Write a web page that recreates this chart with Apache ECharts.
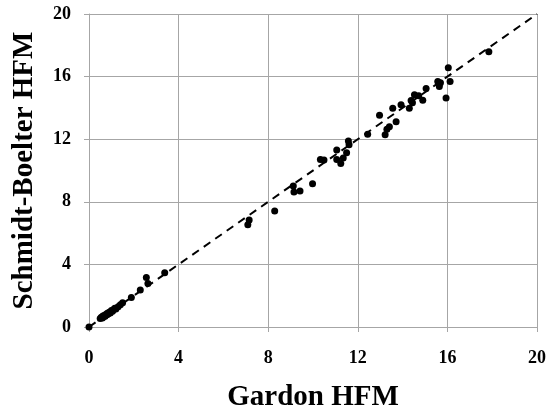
<!DOCTYPE html>
<html>
<head>
<meta charset="utf-8">
<script src="https://cdn.jsdelivr.net/npm/echarts@6/dist/echarts.min.js"></script>
<style>
  html, body { margin: 0; padding: 0; background: #fff; }
  #chart { width: 549px; height: 417px; }
</style>
</head>
<body>
<div id="chart"></div>
<script>
// Heat flux readings: Gardon gauge (x) versus Schmidt-Boelter gauge (y)
const gardon = [
  0.0, 0.50, 0.55, 0.60, 0.62, 0.65, 0.70, 0.72, 0.75, 0.80, 0.82, 0.85, 0.90, 0.95,
  1.00, 1.05, 1.10, 1.15, 1.20, 1.30, 1.40, 1.50,
  1.89, 2.29, 2.56, 2.63, 3.38,
  7.09, 7.15, 8.29, 9.12, 9.15, 9.42, 9.98, 10.33, 10.49,
  11.06, 11.06, 11.24, 11.35, 11.50, 11.61, 11.58,
  12.44, 12.97, 13.22, 13.30, 13.41, 13.56, 13.71, 13.93, 14.30, 14.38, 14.44,
  14.53, 14.72, 14.90, 15.05, 15.57, 15.64, 15.69, 15.94, 16.04, 16.12, 17.85
];
const schmidtBoelter = [
  0.0, 0.55, 0.62, 0.58, 0.70, 0.66, 0.75, 0.68, 0.80, 0.78, 0.88, 0.83, 0.95, 0.90,
  1.05, 1.00, 1.12, 1.20, 1.15, 1.30, 1.42, 1.55,
  1.89, 2.36, 3.16, 2.78, 3.46,
  6.54, 6.84, 7.41, 9.01, 8.63, 8.69, 9.16, 10.71, 10.67,
  11.31, 10.71, 10.44, 10.80, 11.14, 11.65, 11.89,
  12.31, 13.53, 12.29, 12.63, 12.80, 13.97, 13.12, 14.20, 13.97, 14.48, 14.33,
  14.84, 14.78, 14.49, 15.24, 15.68, 15.37, 15.61, 14.63, 16.56, 15.68, 17.59
];
// 1:1 reference line end points
const identityLine = [[0, 0], [20, 20]];
const axisTicks = { min: 0, max: 20, interval: 4 };

const points = gardon.map((g, i) => [g, schmidtBoelter[i]]);

const font = '"Liberation Serif", "Times New Roman", serif';
const gray = '#a6a6a6';

function axis(name, gap, labelMargin) {
  return {
    type: 'value',
    min: axisTicks.min, max: axisTicks.max, interval: axisTicks.interval,
    name: name,
    nameLocation: 'middle',
    nameGap: gap,
    nameTextStyle: { fontFamily: font, fontWeight: 'bold', fontSize: 29, color: '#000' },
    axisLine: { show: true, lineStyle: { color: gray, width: 1 } },
    axisTick: { show: true, inside: false, length: 5, lineStyle: { color: gray, width: 1 } },
    axisLabel: { fontFamily: font, fontWeight: 'bold', fontSize: 18, color: '#000', margin: labelMargin },
    splitLine: { show: true, lineStyle: { color: gray, width: 1 } }
  };
}

const chart = echarts.init(document.getElementById('chart'), null, { renderer: 'canvas' });
chart.setOption({
  animation: false,
  backgroundColor: '#ffffff',
  grid: { left: 89, right: 11, top: 14, bottom: 89, containLabel: false },
  xAxis: axis('Gardon HFM', 56, 22),
  yAxis: axis('Schmidt-Boelter HFM', 50, 18),
  series: [
    {
      type: 'line',
      data: identityLine,
      symbol: 'none',
      silent: true,
      lineStyle: { color: '#000', width: 2, type: [8, 6] },
      z: 2
    },
    {
      type: 'scatter',
      data: points,
      symbol: 'circle',
      symbolSize: 7,
      itemStyle: { color: '#000', opacity: 1 },
      z: 3
    }
  ]
});
</script>
</body>
</html>
